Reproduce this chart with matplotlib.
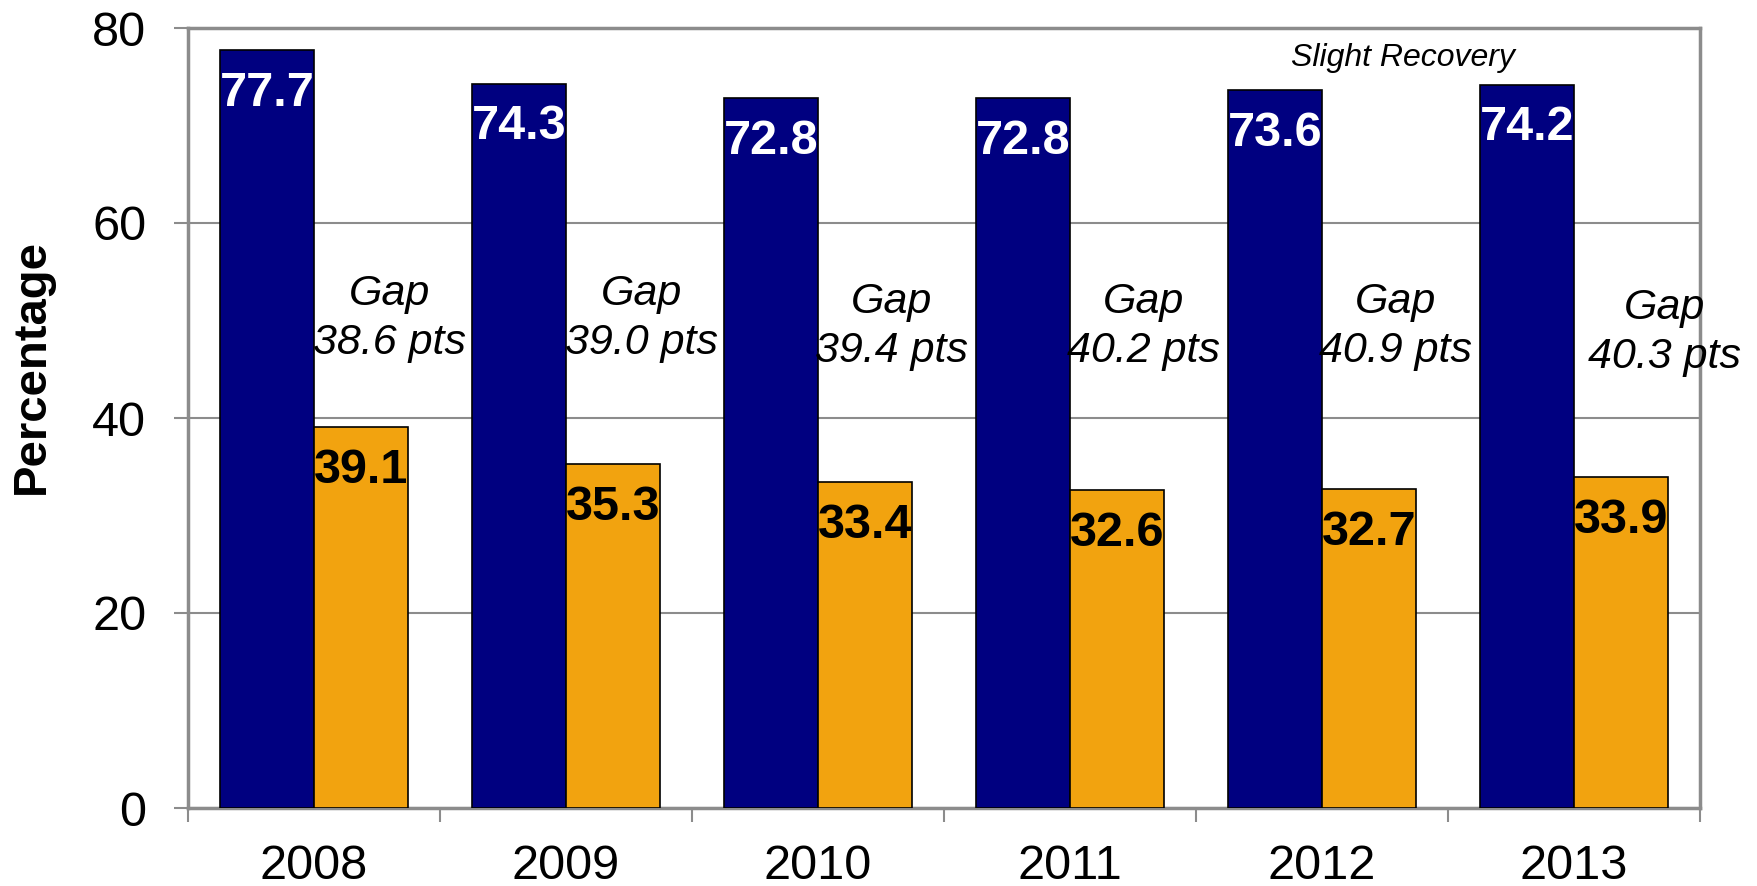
import matplotlib
matplotlib.use("Agg")
import matplotlib.pyplot as plt
import numpy as np

plt.rcParams['font.family'] = ['Liberation Sans', 'DejaVu Sans']

years = ['2008', '2009', '2010', '2011', '2012', '2013']
series_a = [77.7, 74.3, 72.8, 72.8, 73.6, 74.2]
series_b = [39.1, 35.3, 33.4, 32.6, 32.7, 33.9]
gap_pts = [38.6, 39.0, 39.4, 40.2, 40.9, 40.3]
yticks = [0, 20, 40, 60, 80]

# layout (not data)
gap_dx = [0.30, 0.30, 0.29, 0.29, 0.29, 0.36]
gap_y = [50.2, 50.2, 49.4, 49.4, 49.4, 48.8]

navy = '#000080'
orange = '#F2A30F'
gray = '#8c8c8c'

fig = plt.figure(figsize=(17.58, 8.86), dpi=100)
ax = fig.add_axes([188/1758, 1-808/886, (1700-188)/1758, (808-28)/886])

x = np.arange(len(years))
w = 0.373
ax.bar(x - w/2, series_a, w, color=navy, edgecolor='black', linewidth=1.2, zorder=3)
ax.bar(x + w/2, series_b, w, color=orange, edgecolor='black', linewidth=1.2, zorder=3)

for i in range(len(years)):
    ax.annotate(f'{series_a[i]:.1f}', (x[i] - w/2, series_a[i]), xytext=(0, -15),
                textcoords='offset points', ha='center', va='top',
                fontsize=35, fontweight='bold', color='white', zorder=4)
    ax.annotate(f'{series_b[i]:.1f}', (x[i] + w/2, series_b[i]), xytext=(0, -15),
                textcoords='offset points', ha='center', va='top',
                fontsize=35, fontweight='bold', color='black', zorder=4)
    ax.text(x[i] + gap_dx[i], gap_y[i], f'Gap\n{gap_pts[i]:.1f} pts', ha='center', va='center',
            fontsize=31, fontstyle='italic', linespacing=1.3, zorder=5)

ax.text(4.32, 76.9, 'Slight Recovery', ha='center', va='center', fontsize=23, fontstyle='italic')

ax.set_xlim(-0.5, len(years) - 0.5)
ax.set_ylim(0, 80)
ax.set_yticks(yticks)
ax.set_yticklabels([str(t) for t in yticks])
ax.yaxis.grid(True, color=gray, linewidth=1.5, zorder=0)
ax.set_axisbelow(True)

ax.set_xticks(x)
ax.set_xticklabels(years)
ax.set_xticks(np.arange(-0.5, len(years), 1.0), minor=True)
ax.tick_params(axis='x', which='major', length=0, pad=26, labelsize=35)
ax.tick_params(axis='x', which='minor', length=10, width=1.5, color=gray, direction='out')
ax.tick_params(axis='y', length=10, width=1.5, color=gray, pad=20, labelsize=35)

for s in ax.spines.values():
    s.set_color(gray)
    s.set_linewidth(2.5)

fig.text(0.018, 0.586, 'Percentage', rotation=90, ha='center', va='center',
         fontsize=34, fontweight='bold')

fig.savefig('out.png', dpi=100)
